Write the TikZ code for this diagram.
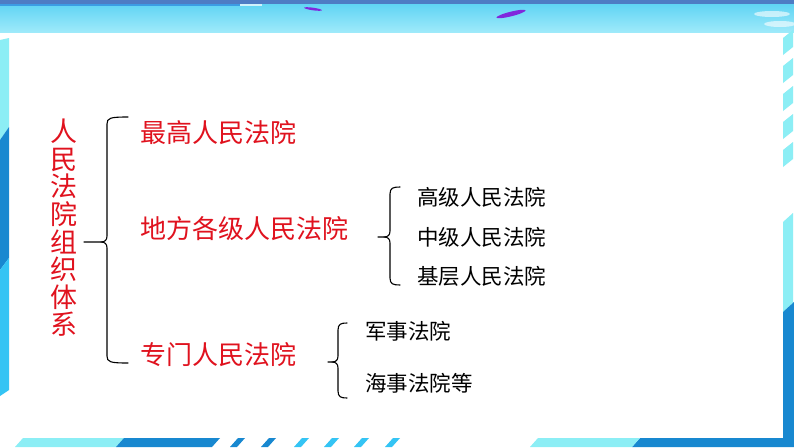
\documentclass[tikz,border=0pt]{standalone}
\usepackage{fontspec}
\newfontfamily\cjk{Noto Sans CJK SC}
\usetikzlibrary{calc}
\usetikzlibrary{positioning}

\definecolor{fayuanred}{RGB}{224,18,30}
\definecolor{skyblue}{RGB}{96,212,244}
\definecolor{skylight}{RGB}{158,234,250}
\definecolor{topblue}{RGB}{78,124,196}
\definecolor{lineblue}{RGB}{60,156,228}
\definecolor{deepblue}{RGB}{24,136,208}
\definecolor{midblue}{RGB}{52,196,244}
\definecolor{paleblue}{RGB}{140,238,245}
\definecolor{streak}{RGB}{128,40,220}

% brace: x of the stem, top, tip and bottom y, x of the tip, x of the ends
\newcommand\kuohao[6]{%
  \draw[brace line] (#6,#2) .. controls (#1+3,#2) and (#1,#2+1) .. (#1,#2+7)
    -- (#1,#3-6) .. controls (#1,#3-2) and (#1-2,#3) .. (#1-6,#3) -- (#5,#3);
  \draw[brace line] (#1-6,#3) .. controls (#1-2,#3) and (#1,#3+2) .. (#1,#3+6)
    -- (#1,#4-7) .. controls (#1,#4-1) and (#1+3,#4) .. (#6,#4);}

\begin{document}
\begin{tikzpicture}[x=1pt, y=-1pt,
    redtext/.style={inner sep=0pt, text=fayuanred, font=\cjk\fontsize{26}{28}\selectfont},
    blacktext/.style={inner sep=0pt, font=\cjk\fontsize{21.5}{24}\selectfont},
    brace line/.style={line width=1.1pt, line join=round, line cap=round}]
  \useasboundingbox (0,0) rectangle (794,447);
  \fill[white] (0,0) rectangle (794,447);

  % Sky band on top
  \shade[top color=skyblue, bottom color=skylight] (0,4) rectangle (794,32);
  \fill[topblue] (0,0) rectangle (794,4);
  \fill[lineblue] (0,4) rectangle (240,6);
  \fill[white!70!skyblue] (240,4) rectangle (262,6);
  \fill[white, opacity=0.6] (772,14) ellipse (18 and 3);
  \fill[white, opacity=0.6] (780,24) ellipse (16 and 3);
  \fill[streak, rotate around={-8:(313,9)}] (313,9) ellipse (9 and 1.3);
  \fill[streak, rotate around={14:(511,14)}] (511,14) ellipse (15 and 2.3);

  % Left bar
  \fill[paleblue] (0,40) -- (9,38) -- (9,127) -- (0,140) -- cycle;
  \fill[deepblue] (0,140) -- (9,127) -- (9,258) -- (0,270) -- cycle;
  \fill[midblue] (0,270) -- (9,258) -- (9,390) -- (0,396) -- cycle;

  % Right bar
  \foreach \y in {30,58,86,114,142}
    \fill[paleblue] (783,\y+8) -- (793,\y) -- (793,\y+17) -- (783,\y+25) -- cycle;
  \fill[paleblue] (783,222) -- (793,213) -- (793,303) -- (783,312) -- cycle;
  \fill[deepblue] (632,447) -- (640,438) -- (783,438) -- (783,312) -- (794,302)
    -- (794,447) -- cycle;

  % Bottom stripes
  \fill[paleblue] (15,447) -- (23,438) -- (124,438) -- (116,447) -- cycle;
  \fill[deepblue] (116,447) -- (124,438) -- (220,438) -- (212,447) -- cycle;
  \foreach \x in {230,261}
    \fill[deepblue] (\x,447) -- (\x+8,438) -- (\x+15,438) -- (\x+7,447) -- cycle;
  \foreach \x in {294,324,354,385}
    \fill[midblue] (\x,447) -- (\x+8,438) -- (\x+15,438) -- (\x+7,447) -- cycle;
  \fill[paleblue] (530,447) -- (538,438) -- (640,438) -- (632,447) -- cycle;

  % Title column
  \node[redtext, font=\cjk\fontsize{27}{27.6}\selectfont, align=center] (root) at (64,228)
    {人\\民\\法\\院\\组\\织\\体\\系};

  % First level
  \node[redtext, anchor=west] (zuigao) at (140,133) {最高人民法院};
  \node[redtext, anchor=west] (difang) at (140,229) {地方各级人民法院};
  \node[redtext, anchor=west] (zhuanmen) at (140,355) {专门人民法院};

  % Second level
  \node[blacktext, anchor=west] (gaoji) at (417,197) {高级人民法院};
  \node[blacktext, anchor=west] (zhongji) at (417,237) {中级人民法院};
  \node[blacktext, anchor=west] (jiceng) at (417,276) {基层人民法院};
  \node[blacktext, anchor=west] (junshi) at (365,331) {军事法院};
  \node[blacktext, anchor=west] (haishi) at (365,383) {海事法院等};

  % Braces
  \kuohao{107}{117}{242}{363}{84}{128}
  \kuohao{390}{187}{237}{285}{378}{400}
  \kuohao{338}{323}{362}{398}{328}{347}
\end{tikzpicture}
\end{document}
